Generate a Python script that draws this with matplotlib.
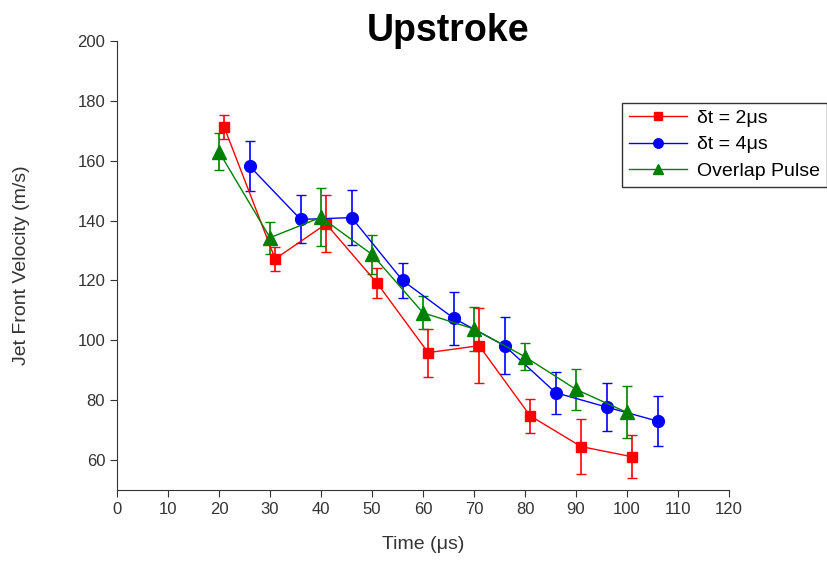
import matplotlib.pyplot as plt
from matplotlib.lines import Line2D

plt.rcParams['font.family'] = ['Liberation Sans', 'DejaVu Sans']

# data
t_2us = [21, 31, 41, 51, 61, 71, 81, 91, 101]
v_2us = [171.3, 127.2, 138.9, 119.1, 95.9, 98.2, 74.8, 64.5, 61.1]
e_2us = [4.0, 4.0, 9.5, 5.0, 8.0, 12.6, 5.7, 9.2, 7.2]

t_4us = [26, 36, 46, 56, 66, 76, 86, 96, 106]
v_4us = [158.2, 140.4, 141.0, 120.0, 107.4, 98.2, 82.5, 77.7, 73.0]
e_4us = [8.3, 8.0, 9.3, 6.0, 8.8, 9.5, 7.0, 8.0, 8.4]

t_ovl = [20, 30, 40, 50, 60, 70, 80, 90, 100]
v_ovl = [163.0, 134.3, 141.1, 128.7, 109.2, 103.8, 94.5, 83.6, 75.9]
e_ovl = [6.2, 5.3, 9.7, 6.5, 5.5, 7.4, 4.5, 6.8, 8.7]

labels = ['\u03b4t = 2\u03bcs', '\u03b4t = 4\u03bcs', 'Overlap Pulse']
colors = ['#ff0000', '#0000ff', '#008000']
markers = ['s', 'o', '^']
msizes = [7, 8.5, 9.5]

fig = plt.figure(figsize=(8.27, 5.70), dpi=100)
ax = fig.add_axes([0.1415, 0.1404, 0.74, 0.7876])

series = [(t_2us, v_2us, e_2us), (t_4us, v_4us, e_4us), (t_ovl, v_ovl, e_ovl)]
for (t, v, e), c, m, ms in zip(series, colors, markers, msizes):
    ax.errorbar(t, v, yerr=e, color=c, marker=m, markersize=ms,
                lw=1, elinewidth=1.2, capsize=3.5)

ax.set_xlim(0, 120)
ax.set_ylim(50, 200)
ax.set_xticks(range(0, 121, 10))
ax.set_yticks(range(60, 201, 20))
ax.spines['top'].set_visible(False)
ax.spines['right'].set_visible(False)
ax.spines['left'].set_color('#333333')
ax.spines['bottom'].set_color('#333333')
ax.tick_params(direction='out', length=5, labelsize=12, colors='#333333')

ax.set_xlabel('Time (\u03bcs)', fontsize=14, color='#333333', labelpad=14)
ax.set_ylabel('Jet Front Velocity (m/s)', fontsize=14, color='#333333')
ax.yaxis.set_label_coords(-0.142, 0.5)

fig.text(0.542, 0.945, 'Upstroke', fontsize=27, fontweight='bold',
         ha='center', va='center')

handles = [Line2D([], [], color=c, marker=m, markersize=ms * 0.8, lw=1)
           for c, m, ms in zip(colors, markers, msizes)]
leg = ax.legend(handles, labels, loc='upper right', bbox_to_anchor=(1.0, 0.82),
                bbox_transform=fig.transFigure, fontsize=14, frameon=True,
                fancybox=False, edgecolor='black', handlelength=3.0,
                borderpad=0.35, labelspacing=0.45, handletextpad=0.5,
                borderaxespad=0.0)
leg.get_frame().set_linewidth(1.0)

fig.savefig('out.png', dpi=100)
